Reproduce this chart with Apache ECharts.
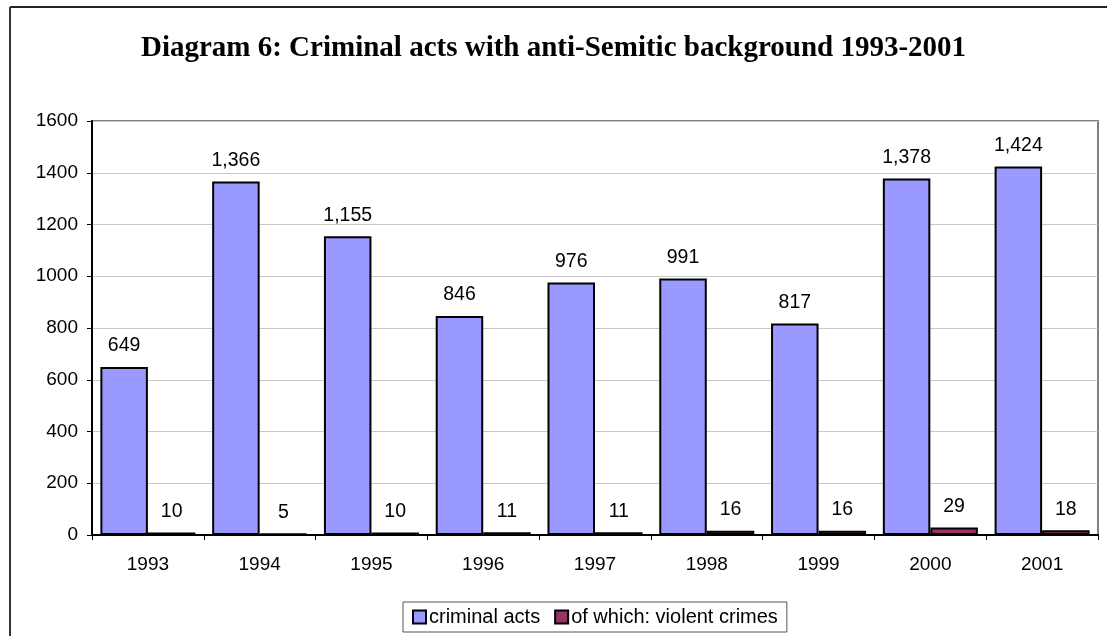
<!DOCTYPE html>
<html>
<head>
<meta charset="utf-8">
<script src="https://cdn.jsdelivr.net/npm/echarts@6/dist/echarts.min.js"></script>
<style>
html,body{margin:0;padding:0;background:#fff;}
#chart{width:1107px;height:636px;}
</style>
</head>
<body>
<div id="chart"></div>
<script>
var titleText = 'Diagram 6: Criminal acts with anti-Semitic background 1993-2001';
var categories = ['1993','1994','1995','1996','1997','1998','1999','2000','2001'];
var criminalActs = [649, 1366, 1155, 846, 976, 991, 817, 1378, 1424];
var violentCrimes = [10, 5, 10, 11, 11, 16, 16, 29, 18];
var seriesNames = ['criminal acts', 'of which: violent crimes'];
var yTicks = {min: 0, max: 1600, interval: 200};

var chart = echarts.init(document.getElementById('chart'), null, {renderer: 'canvas'});
var fontSans = 'Arial, "Liberation Sans", sans-serif';
var labelCfg = {
  show: true, position: 'top', distance: 11,
  color: '#000', fontFamily: fontSans, fontSize: 19.5,
  formatter: function (p) { return p.value.toLocaleString('en-US'); }
};
chart.setOption({
  backgroundColor: '#fff',
  animation: false,
  title: {
    text: titleText, left: 'center', top: 29,
    textStyle: {fontFamily: '"Times New Roman", "Liberation Serif", serif', fontWeight: 'bold', fontSize: 29, color: '#000'}
  },
  legend: {
    left: 403, top: 602,
    padding: [5, 9, 5, 9],
    borderColor: '#555', borderWidth: 1,
    itemWidth: 13, itemHeight: 13, itemGap: 14,
    icon: 'rect',
    textStyle: {fontFamily: fontSans, fontSize: 20, color: '#000', padding: [0, 0, 0, -2]},
    data: seriesNames
  },
  grid: {left: 92, right: 9, top: 121, bottom: 101, show: true, borderColor: '#808080', borderWidth: 2, backgroundColor: '#fff'},
  xAxis: {
    type: 'category', data: categories,
    axisLine: {show: true, lineStyle: {color: '#000', width: 2}},
    axisTick: {show: true, alignWithLabel: false, length: 5, inside: false, lineStyle: {color: '#000'}},
    axisLabel: {color: '#000', fontFamily: fontSans, fontSize: 19, margin: 20}
  },
  yAxis: {
    type: 'value', min: yTicks.min, max: yTicks.max, interval: yTicks.interval,
    axisLine: {show: true, lineStyle: {color: '#000', width: 2}},
    axisTick: {show: true, length: 5, lineStyle: {color: '#000'}},
    axisLabel: {color: '#000', fontFamily: fontSans, fontSize: 19, margin: 14, formatter: function (v) { return String(v); }},
    splitLine: {show: true, lineStyle: {color: '#c8c8c8', width: 1}}
  },
  graphic: [
    {type: 'line', shape: {x1: 10, y1: 7, x2: 1107, y2: 7}, style: {stroke: '#222', lineWidth: 2}},
    {type: 'line', shape: {x1: 10, y1: 7, x2: 10, y2: 636}, style: {stroke: '#333', lineWidth: 2}}
  ],
  series: [
    {
      name: seriesNames[0], type: 'bar', data: criminalActs,
      barGap: '0%', barCategoryGap: '15%',
      itemStyle: {color: '#9999FF', borderColor: '#000', borderWidth: 2},
      label: labelCfg
    },
    {
      name: seriesNames[1], type: 'bar', data: violentCrimes,
      barGap: '0%', barCategoryGap: '15%',
      itemStyle: {color: '#993366', borderColor: '#000', borderWidth: 2},
      label: labelCfg
    }
  ]
});
</script>
</body>
</html>
